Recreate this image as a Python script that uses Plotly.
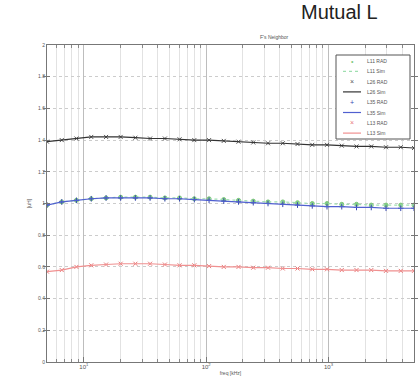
import plotly.graph_objects as go

freq = [5, 6.6, 8.7, 11.5, 15.2, 20, 26.4, 34.8, 46, 60.6, 80, 105.6, 139.3, 183.9,
        242.7, 320.4, 422.9, 558.2, 736.8, 972.6, 1283.8, 1694.6, 2236.9, 2952.7, 3897.6, 5000]

green_meas = [0.99, 1.01, 1.02, 1.03, 1.035, 1.04, 1.04, 1.04, 1.035, 1.035, 1.03, 1.03, 1.025, 1.02,
              1.015, 1.01, 1.01, 1.005, 1.0, 1.0, 0.995, 0.995, 0.99, 0.99, 0.99, 0.99]
green_sim = [0.99, 1.01, 1.02, 1.03, 1.035, 1.04, 1.04, 1.04, 1.035, 1.035, 1.03, 1.03, 1.025, 1.02,
             1.015, 1.01, 1.01, 1.005, 1.0, 1.0, 0.995, 0.995, 0.99, 0.99, 0.99, 0.99]
black_meas = [1.39, 1.40, 1.41, 1.42, 1.42, 1.42, 1.415, 1.41, 1.41, 1.405, 1.40, 1.40, 1.395, 1.39,
              1.385, 1.38, 1.38, 1.375, 1.37, 1.37, 1.365, 1.36, 1.36, 1.355, 1.355, 1.35]
black_sim = [1.39, 1.40, 1.41, 1.42, 1.42, 1.42, 1.415, 1.41, 1.41, 1.405, 1.40, 1.40, 1.395, 1.39,
             1.385, 1.38, 1.38, 1.375, 1.37, 1.37, 1.365, 1.36, 1.36, 1.355, 1.355, 1.35]
blue_meas = [0.99, 1.01, 1.02, 1.03, 1.035, 1.035, 1.035, 1.035, 1.03, 1.03, 1.025, 1.02, 1.015, 1.01,
             1.005, 1.0, 0.995, 0.99, 0.985, 0.98, 0.98, 0.975, 0.975, 0.97, 0.97, 0.97]
blue_sim = [0.99, 1.01, 1.02, 1.03, 1.035, 1.035, 1.035, 1.035, 1.03, 1.03, 1.025, 1.02, 1.015, 1.01,
            1.005, 1.0, 0.995, 0.99, 0.985, 0.98, 0.98, 0.975, 0.975, 0.97, 0.97, 0.97]
red_meas = [0.57, 0.58, 0.60, 0.61, 0.615, 0.62, 0.62, 0.62, 0.615, 0.61, 0.61, 0.605, 0.60, 0.60,
            0.595, 0.595, 0.59, 0.59, 0.585, 0.585, 0.58, 0.58, 0.58, 0.575, 0.575, 0.575]
red_sim = [0.57, 0.58, 0.60, 0.61, 0.615, 0.62, 0.62, 0.62, 0.615, 0.61, 0.61, 0.605, 0.60, 0.60,
           0.595, 0.595, 0.59, 0.59, 0.585, 0.585, 0.58, 0.58, 0.58, 0.575, 0.575, 0.575]

names = ["L11 RAD", "L11 Sim", "L26 RAD", "L26 Sim", "L35 RAD", "L35 Sim", "L13 RAD", "L13 Sim"]
x_major = [10, 100, 1000]
x_major_text = ["10<sup>1</sup>", "10<sup>2</sup>", "10<sup>3</sup>"]
x_minor = [5, 6, 7, 8, 9, 20, 30, 40, 50, 60, 70, 80, 90, 200, 300, 400, 500, 600, 700, 800, 900,
           2000, 3000, 4000, 5000]
y_tickvals = [0, 0.2, 0.4, 0.6, 0.8, 1, 1.2, 1.4, 1.6, 1.8, 2]

series = [
    (names[0], green_meas, "markers", "#7fc97f", "circle", "•", None),
    (names[1], green_sim, "lines", "#9fdfb0", None, None, "dot"),
    (names[2], black_meas, "markers", "#555555", "x-thin", "×", None),
    (names[3], black_sim, "lines", "#333333", None, None, "solid"),
    (names[4], blue_meas, "markers", "#3848b0", "cross-thin", "+", None),
    (names[5], blue_sim, "lines", "#5060d0", None, None, "solid"),
    (names[6], red_meas, "markers", "#e87878", "x-thin", "×", None),
    (names[7], red_sim, "lines", "#f09090", None, None, "solid"),
]

fig = go.Figure()
for name, ys, mode, color, sym, glyph, dash in series:
    if mode == "markers":
        fig.add_trace(go.Scatter(x=freq, y=ys, name=name, mode="markers", xaxis="x", yaxis="y",
                                 marker=dict(symbol=sym, size=4, color=color,
                                             line=dict(color=color, width=1))))
    else:
        fig.add_trace(go.Scatter(x=freq, y=ys, name=name, mode="lines", xaxis="x", yaxis="y",
                                 line=dict(color=color, width=1.2, dash=dash)))

# manual compact legend (plotly legend rows are too tall at this size)
PX_L, PX_T, PW, PH = 47, 45, 367, 317
def px2paper(xp, yp):
    return (xp - PX_L) / PW, (PX_T + PH - yp) / PH

shapes = []
annotations = []
bx0, by0 = px2paper(336, 55)
bx1, by1 = px2paper(410, 139)
shapes.append(dict(type="rect", xref="paper", yref="paper", x0=bx0, x1=bx1, y0=by1, y1=by0,
                   line=dict(color="#555555", width=1), fillcolor="white", layer="above"))
for i, (name, ys, mode, color, sym, glyph, dash) in enumerate(series):
    yp = 61 + i * 10.3
    sx0, sy = px2paper(343, yp)
    sx1, _ = px2paper(361, yp)
    tx, _ = px2paper(365, yp)
    if mode == "markers":
        annotations.append(dict(text=glyph, x=(sx0 + sx1) / 2, y=sy, xref="paper", yref="paper",
                                showarrow=False, xanchor="center", yanchor="middle",
                                font=dict(size=7, color=color)))
    else:
        shapes.append(dict(type="line", xref="paper", yref="paper", x0=sx0, x1=sx1, y0=sy, y1=sy,
                           line=dict(color=color, width=1.2, dash=dash), layer="above"))
    annotations.append(dict(text=name, x=tx, y=sy, xref="paper", yref="paper", showarrow=False,
                            xanchor="left", yanchor="middle", font=dict(size=5, color="#555555")))

annotations.append(dict(text="Mutual L", x=0.907, y=1.104, xref="paper", yref="paper",
                        xanchor="right", yanchor="middle", showarrow=False,
                        font=dict(size=20, color="#222222", family="Arial, Liberation Sans, sans-serif")))
annotations.append(dict(text="F's Neighbor", x=0.62, y=1.0, xref="paper", yref="paper",
                        xanchor="center", yanchor="bottom", yshift=3, showarrow=False,
                        font=dict(size=5, color="#555555")))

fig.update_layout(
    width=420, height=388,
    margin=dict(l=47, r=6, t=45, b=26),
    paper_bgcolor="white", plot_bgcolor="white",
    font=dict(family="Arial, Liberation Sans, sans-serif", size=5, color="#555555"),
    showlegend=False,
    shapes=shapes,
    annotations=annotations,
    xaxis=dict(type="log", range=[0.699, 3.699],
               tickvals=x_minor, ticktext=[""] * len(x_minor),
               showgrid=True, gridcolor="#e2e2e2", gridwidth=1,
               ticks="inside", ticklen=3, tickcolor="#888888",
               showline=True, linecolor="#777777", linewidth=1, mirror="allticks",
               zeroline=False),
    xaxis2=dict(type="log", range=[0.699, 3.699], overlaying="x", side="bottom",
                tickvals=x_major, ticktext=x_major_text,
                showgrid=True, gridcolor="#bdbdbd", gridwidth=1,
                ticks="inside", ticklen=5, tickcolor="#777777",
                tickfont=dict(size=6),
                title=dict(text="freq [kHz]", standoff=2, font=dict(size=5)),
                zeroline=False),
    yaxis=dict(range=[0, 2], tickvals=y_tickvals,
               showgrid=True, gridcolor="#cccccc", griddash="dot", gridwidth=1,
               ticks="inside", ticklen=3, tickcolor="#777777",
               showline=True, linecolor="#777777", linewidth=1, mirror="allticks",
               title=dict(text="[uH]", standoff=6, font=dict(size=5)),
               zeroline=False),
)
# invisible anchor trace so xaxis2 is drawn
fig.add_trace(go.Scatter(x=[freq[0]], y=[None], xaxis="x2", yaxis="y", showlegend=False,
                         hoverinfo="skip", mode="markers"))

fig.write_html("out.html")
